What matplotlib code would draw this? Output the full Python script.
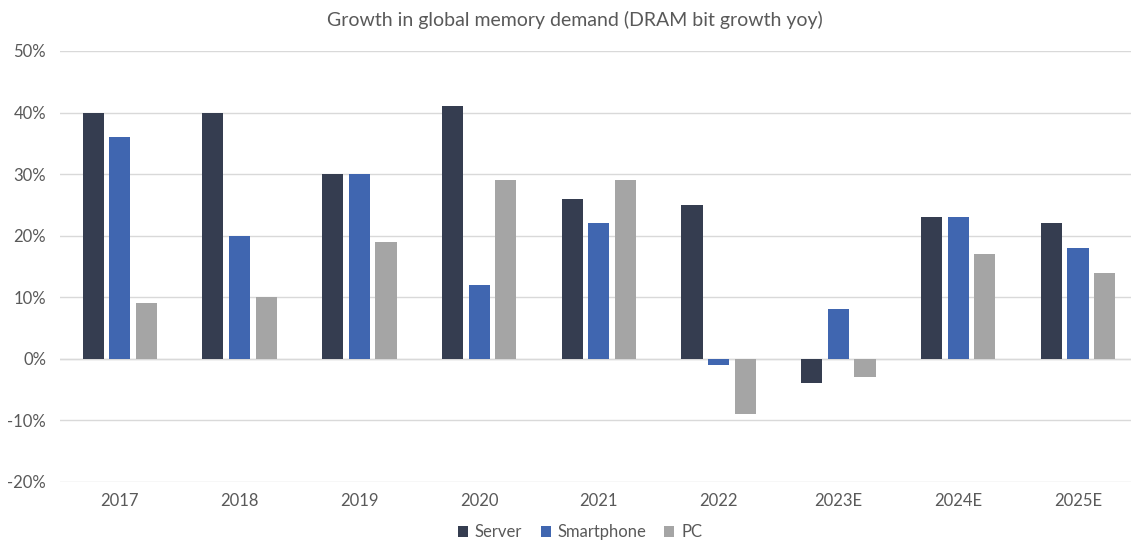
import matplotlib.pyplot as plt
import numpy as np

years = ["2017", "2018", "2019", "2020", "2021", "2022", "2023E", "2024E", "2025E"]
server = [40, 40, 30, 41, 26, 25, -4, 23, 22]
smartphone = [36, 20, 30, 12, 22, -1, 8, 23, 18]
pc = [9, 10, 19, 29, 29, -9, -3, 17, 14]

plt.rcParams['font.family'] = ['Lato', 'DejaVu Sans']
txt = '#595959'

fig = plt.figure(figsize=(11.31, 5.42), dpi=100)
ax = fig.add_axes([0.053, 0.111, 0.953, 0.795])

x = np.arange(len(years))
w = 0.177
off = 0.223
ax.bar(x - off, server, w, color='#353d50', label='Server', zorder=3)
ax.bar(x, smartphone, w, color='#4066b0', label='Smartphone', zorder=3)
ax.bar(x + off, pc, w, color='#a5a5a5', label='PC', zorder=3)

ax.set_xlim(-0.5, len(years) - 0.5)
ax.set_ylim(-20, 50)
ax.set_yticks(range(-20, 51, 10))
ax.set_yticklabels([f"{v}%" for v in range(-20, 51, 10)])
ax.set_xticks(x)
ax.set_xticklabels(years)
ax.grid(axis='y', color='#d9d9d9', linewidth=1, zorder=0)
ax.axhline(0, color='#d9d9d9', linewidth=1, zorder=1)
for s in ax.spines.values():
    s.set_visible(False)
ax.tick_params(length=0, labelsize=12, colors=txt, pad=10)
ax.tick_params(axis='x', pad=8)

fig.text(0.508, 0.963, "Growth in global memory demand (DRAM bit growth yoy)",
         fontsize=14, color=txt, ha='center', va='center')
fig.legend(loc='center', bbox_to_anchor=(0.513, 0.018), ncol=3, frameon=False,
           fontsize=12, labelcolor=txt, handlelength=0.6, handleheight=0.6,
           handletextpad=0.4, columnspacing=1.1)

fig.savefig("out.png", dpi=100)
